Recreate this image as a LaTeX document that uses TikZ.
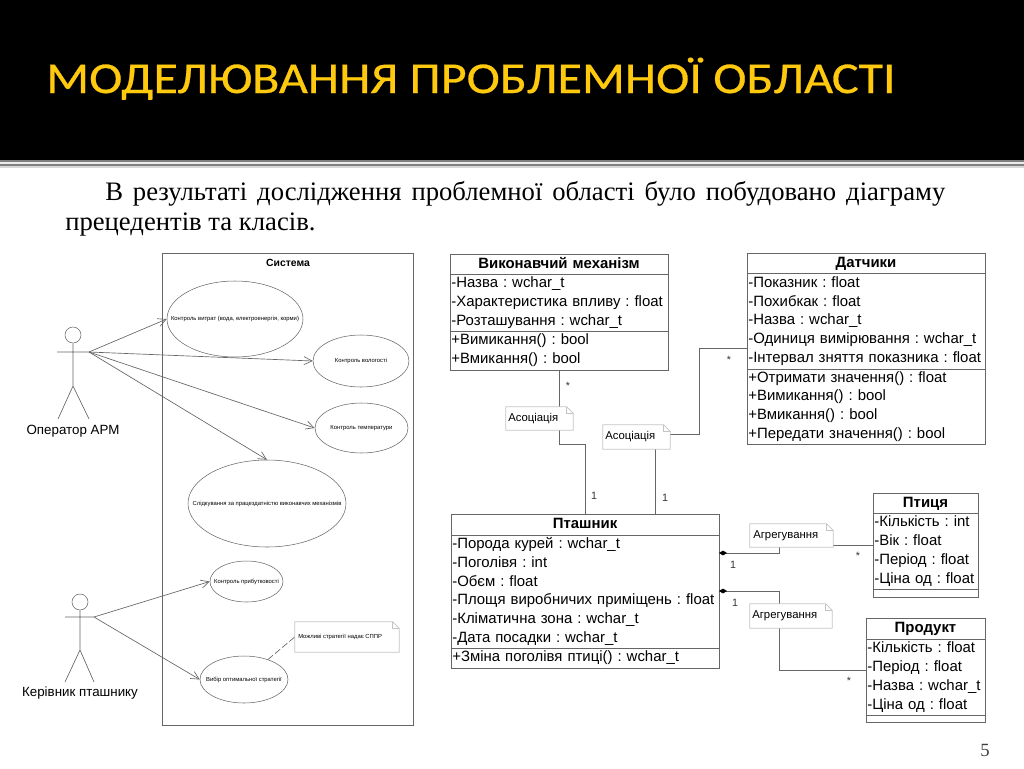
\documentclass[tikz,border=0pt]{standalone}
\usepackage{fontspec}
\setmainfont{Liberation Sans}
\newfontfamily\titlefont[FakeStretch=1.14, FakeBold=0.6]{Carlito}
\newfontfamily\bodyfont{Liberation Serif}
\usetikzlibrary{positioning, shapes.geometric, arrows.meta}

\definecolor{bannerYellow}{HTML}{FFC90E}
\definecolor{umlLine}{HTML}{666666}
\definecolor{noteLine}{HTML}{C4C4C4}

\tikzset{
  umlpart/.style 2 args = {rectangle, draw = umlLine, inner xsep = 1pt, inner ysep = 0pt, outer sep = 0pt, align = left,
    text width = #1*0.75pt-2pt, minimum height = #2*0.75pt, font = \fontsize{11.2}{14.06}\selectfont\frenchspacing},
  umlhead/.style 2 args = {umlpart = {#1}{#2}, align = center, font = \fontsize{11.2}{14}\selectfont\bfseries,
    text height = 8pt, text depth = 2pt},
  usecase/.style 2 args = {ellipse, draw = umlLine, line width = 0.4pt, inner sep = 0pt, minimum width = #1*0.75pt, minimum height = #2*0.75pt},
  every label/.style = {inner sep = 0pt, font = \fontsize{4.4}{6}\selectfont},
  umlnote/.style 2 args = {rectangle, fill = white, inner sep = 0pt, minimum width = #1*0.75pt, minimum height = #2*0.75pt,
    font = \fontsize{8}{10}\selectfont, text = black!80},
  notetext/.style = {anchor = west, inner sep = 0pt, font = \fontsize{8.5}{10}\selectfont},
  wire/.style = {draw = umlLine, line width = 0.5pt},
  usearrow/.style = {wire, -{Straight Barb[length = 6pt, width = 6pt]}},
  whole/.style = {wire, {Diamond[length = 6pt, width = 3.6pt, fill = black, color = black]}-},
  mult/.style = {inner sep = 0pt, font = \fontsize{8}{9}\selectfont, text = black!80},
  actorname/.style = {inner sep = 0pt, font = \fontsize{10}{11}\selectfont}
}

\newcommand{\dogear}[1]{
  \draw[noteLine, line width = 0.5pt] (#1.north west) -- ([xshift = -5pt]#1.north east) -- ([yshift = -5pt]#1.north east)
    -- (#1.south east) -- (#1.south west) -- cycle;
  \draw[noteLine, line width = 0.5pt] ([xshift = -5pt]#1.north east) |- ([yshift = -5pt]#1.north east);
}

\begin{document}
\begin{tikzpicture}[x = 0.75pt, y = -0.75pt]
  \useasboundingbox (0, 0) rectangle (1024, 768);

  % slide
  \fill[black] (0, 0) rectangle (1024, 160);
  \fill[black!50] (0, 160) rectangle (1024, 161.5);
  \fill[black!8] (0, 161.5) rectangle (1024, 164);
  \fill[black!50] (0, 164) rectangle (1024, 166);
  \fill[black!15] (0, 166) rectangle (1024, 168);
  \node[anchor = base west, inner sep = 0pt, text = bannerYellow, font = \titlefont\fontsize{33}{40}\selectfont] (slideTitle) at (46, 93) {МОДЕЛЮВАННЯ ПРОБЛЕМНОЇ ОБЛАСТІ};
  \node[anchor = north west, inner sep = 0pt, text width = 660pt, align = justify, font = \bodyfont\fontsize{20}{22.5}\selectfont] (intro) at (65, 181.5)
    {\hspace*{30pt}В результаті дослідження проблемної області було побудовано діаграму прецедентів та класів.};
  \node[inner sep = 0pt, text = black!75, font = \bodyfont\fontsize{14}{16}\selectfont] (pageNo) at (985, 750) {5};

  % precedents
  \node[rectangle, draw = umlLine, line width = 0.5pt, inner sep = 0pt, minimum width = 188.25pt, minimum height = 354pt] (sysBox) at (287.5, 489) {};
  \node[inner sep = 0pt, font = \fontsize{7.8}{9}\selectfont\bfseries] (sysName) at (288, 263) {Система};

  \node[usecase = {136}{76}, label = {center:Контроль витрат (вода, електроенергія, корми)}] (ucCost) at (235, 319) {};
  \node[usecase = {96}{52}, label = {center:Контроль вологості}] (ucHumid) at (361, 361) {};
  \node[usecase = {93}{50}, label = {center:Контроль температури}] (ucTemp) at (361.5, 428) {};
  \node[usecase = {158}{87}, label = {center:Слідкування за працездатністю виконавчих механізмів}] (ucWatch) at (267, 503.5) {};
  \node[usecase = {73}{41}, label = {center:Контроль прибутковості}] (ucProfit) at (246.5, 581.5) {};
  \node[usecase = {88}{47}, label = {center:Вибір оптимальної стратегії}] (ucChoice) at (244, 679.5) {};

  \node[umlnote = {104}{30}] (strategyNote) at (347, 637) {};
  \dogear{strategyNote}
  \node[anchor = west, inner sep = 0pt, font = \fontsize{4.4}{6}\selectfont] (strategyText) at (298, 637) {Можливі стратегії надає СППР};
  \draw[wire, dash pattern = on 5pt off 2pt] (ucChoice) -- (strategyNote.west);

  % actors
  \node[circle, draw = umlLine, line width = 0.4pt, inner sep = 0pt, minimum size = 12pt] (opHead) at (73, 335) {};
  \coordinate (opHip) at (73, 386);
  \coordinate (opHandL) at (57, 352);
  \coordinate (opHandR) at (89, 352);
  \coordinate (opFootL) at (58, 419);
  \coordinate (opFootR) at (89, 419);
  \draw[wire] (opHead) -- (opHip) (opHandL) -- (opHandR) (opFootL) -- (opHip) -- (opFootR);
  \node[actorname] (opName) at (73, 431) {Оператор АРМ};

  \node[circle, draw = umlLine, line width = 0.4pt, inner sep = 0pt, minimum size = 12pt] (bossHead) at (80, 602) {};
  \coordinate (bossHip) at (80, 650);
  \coordinate (bossHandL) at (65, 617);
  \coordinate (bossHandR) at (94, 617);
  \coordinate (bossFootL) at (65, 682);
  \coordinate (bossFootR) at (94, 682);
  \draw[wire] (bossHead) -- (bossHip) (bossHandL) -- (bossHandR) (bossFootL) -- (bossHip) -- (bossFootR);
  \node[actorname] (bossName) at (80, 693) {Керівник пташнику};

  \draw[usearrow] (opHandR) -- (ucCost.west);
  \draw[usearrow] (opHandR) -- (ucHumid.west);
  \draw[usearrow] (opHandR) -- (ucTemp.west);
  \draw[usearrow] (opHandR) -- (ucWatch.north);
  \draw[usearrow] (bossHandR) -- (ucProfit.west);
  \draw[usearrow] (bossHandR) -- (ucChoice.west);

  % classes
  \node[umlhead = {218}{20}, anchor = north west] (vmName) at (450, 254) {Виконавчий механізм};
  \node[umlpart = {218}{57}] (vmAttr) [below = 0pt of vmName] {-Назва : wchar\_t\\-Характеристика впливу : float\\-Розташування : wchar\_t};
  \node[umlpart = {218}{39}] (vmOps) [below = 0pt of vmAttr] {+Вимикання() : bool\\+Вмикання() : bool};

  \node[umlhead = {238}{20}, anchor = north west] (dtName) at (747, 253) {Датчики};
  \node[umlpart = {238}{96}] (dtAttr) [below = 0pt of dtName] {-Показник : float\\-Похибкак : float\\-Назва : wchar\_t\\-Одиниця вимірювання : wchar\_t\\-Інтервал зняття показника : float};
  \node[umlpart = {238}{75}] (dtOps) [below = 0pt of dtAttr] {+Отримати значення() : float\\+Вимикання() : bool\\+Вмикання() : bool\\+Передати значення() : bool};

  \node[umlhead = {268}{21}, anchor = north west] (farmName) at (451, 514) {Пташник};
  \node[umlpart = {268}{113}] (farmAttr) [below = 0pt of farmName] {-Порода курей : wchar\_t\\-Поголівя : int\\-Обєм : float\\-Площя виробничих приміщень : float\\-Кліматична зона : wchar\_t\\-Дата посадки : wchar\_t};
  \node[umlpart = {268}{20}] (farmOps) [below = 0pt of farmAttr] {+Зміна поголівя птиці() : wchar\_t};

  \node[umlhead = {105}{20}, anchor = north west] (birdName) at (873, 493) {Птиця};
  \node[umlpart = {105}{76}] (birdAttr) [below = 0pt of birdName] {-Кількість : int\\-Вік : float\\-Період : float\\-Ціна од : float};
  \node[umlpart = {105}{8}] (birdOps) [below = 0pt of birdAttr] {};

  \node[umlhead = {119}{21}, anchor = north west] (prodName) at (866, 618) {Продукт};
  \node[umlpart = {119}{76}] (prodAttr) [below = 0pt of prodName] {-Кількість : float\\-Період : float\\-Назва : wchar\_t\\-Ціна од : float};
  \node[umlpart = {119}{7}] (prodOps) [below = 0pt of prodAttr] {};

  % relations
  \coordinate (dtPort) at (747, 348);
  \coordinate (farmPort) at (655, 514);
  \coordinate (farmBird) at (719, 553);
  \coordinate (birdPort) at (873, 545);
  \coordinate (farmProd) at (719, 591);
  \coordinate (prodPort) at (866, 670);

  \draw[wire] (vmOps.south) -- ++(0, 74) -| (farmName.north);
  \draw[wire] (dtPort) -- (699, 348) |- (655, 434) -- (farmPort);
  \draw[whole] (farmBird) -- (779, 553) |- (birdPort);
  \draw[whole] (farmProd) -- (779, 591) |- (prodPort);

  \node[umlnote = {67}{23}] (assocVm) at (539.5, 418.5) {};
  \dogear{assocVm}
  \node[notetext] (assocVmText) at (508, 419) {Асоціація};
  \node[umlnote = {67}{24}] (assocDt) at (636.5, 437) {};
  \dogear{assocDt}
  \node[notetext] (assocDtText) at (605, 437) {Асоціація};
  \node[umlnote = {83}{23}] (aggBird) at (791.5, 535.5) {};
  \dogear{aggBird}
  \node[notetext] (aggBirdText) at (753, 536) {Агрегування};
  \node[umlnote = {82}{24}] (aggProd) at (791, 616) {};
  \dogear{aggProd}
  \node[notetext] (aggProdText) at (752, 616) {Агрегування};

  \node[mult] (multVm) at (568, 386) {*};
  \node[mult] (multDt) at (729, 360) {*};
  \node[mult] (multBird) at (858, 556) {*};
  \node[mult] (multProd) at (849, 681) {*};
  \node[mult] (oneVm) at (594, 496) {1};
  \node[mult] (oneDt) at (665, 498) {1};
  \node[mult] (oneBird) at (733, 565) {1};
  \node[mult] (oneProd) at (735, 603) {1};
\end{tikzpicture}
\end{document}
